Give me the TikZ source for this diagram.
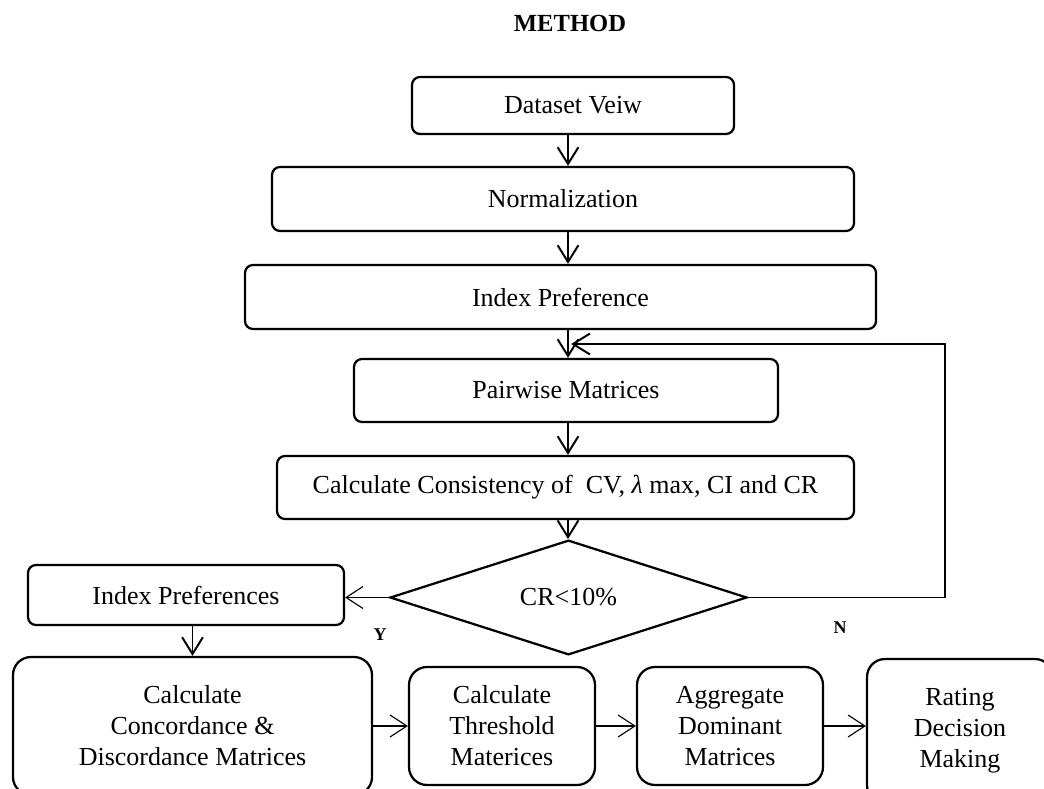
\documentclass[tikz,border=0pt]{standalone}
\usepackage{fontspec}
\setmainfont{Liberation Serif}
\usepackage{tikz}
\usetikzlibrary{shapes.geometric,arrows.meta}
\tikzstyle{arrow} = [line width=1.4pt,-{Straight Barb[length=0.42cm,width=0.52cm]}]
\tikzstyle{thinarrow} = [line width=0.8pt,-{Straight Barb[length=0.42cm,width=0.55cm]}]
\tikzset{
 b/.style
  = {rectangle, draw, rounded corners=0.2cm, line width=1.6pt, inner sep=0pt,
     text centered, minimum height=1.6cm},
 bb/.style
  = {rectangle, draw, rounded corners=0.45cm, line width=1.6pt, inner sep=0pt,
     align=center, minimum width=4.65cm},
 d/.style
  = {diamond, draw, line width=1.6pt, inner sep=0pt,
     minimum width=8.925cm, minimum height=2.375cm},
 yn/.style
  = {font=\fontsize{12.8}{15}\selectfont\bfseries},
}

\begin{document}
\begin{tikzpicture}[font=\fontsize{18.5}{22}\selectfont]
\useasboundingbox (0,0) rectangle (26.1,-19.725);
\clip (0,0) rectangle (26.1,-19.725);

% Title
\node[font=\fontsize{17.5}{21}\selectfont\bfseries] (title) at (14.25,-0.575) {METHOD};

% Main column
\node[b, minimum width=8.05cm, minimum height=1.425cm] (view) at (14.325,-2.6375) {Dataset Veiw};
\node[b, minimum width=14.55cm] (norm) at (14.075,-4.975) {Normalization};
\node[b, minimum width=15.775cm] (pref) at (14.0125,-7.425) {Index Preference};
\node[b, minimum width=10.6cm, minimum height=1.575cm] (pair) at (14.15,-9.7625) {Pairwise Matrices};
\node[b, minimum width=14.425cm, minimum height=1.575cm] (cons) at (14.1375,-12.1875)
  {Calculate Consistency of\ \ CV, {\itshape λ} max, CI and CR};

% Decision
\node[d] (cr) at (14.2125,-14.9375) {CR<10\%};
\node[yn] (yes) at (9.5,-15.875) {Y};
\node[yn] (no) at (21.0,-15.7) {N};

% Left branch
\node[b, minimum width=7.9cm, minimum height=1.5cm] (prefs) at (4.65,-14.875) {Index Preferences};

% Bottom row
\node[bb, minimum width=8.975cm, minimum height=3.45cm] (conc) at (4.8125,-18.15)
  {Calculate\\Concordance \&\\Discordance Matrices};
\node[bb, minimum height=2.95cm] (thr) at (12.55,-18.15) {Calculate\\Threshold\\Materices};
\node[bb, minimum height=2.95cm] (agg) at (18.25,-18.15) {Aggregate\\Dominant\\Matrices};
\node[bb, minimum height=3.6cm] (rate) at (24.0,-18.275) {Rating\\Decision\\Making};

% Arrows down the column
\coordinate (axis) at (14.2,0);
\draw[arrow] (view.south -| axis) -- (norm.north -| axis);
\draw[arrow] (norm.south -| axis) -- (pref.north -| axis);
\draw[arrow] (pref.south -| axis) -- (pair.north -| axis);
\draw[arrow] (pair.south -| axis) -- (cons.north -| axis);
\draw[arrow] (cons.south -| axis) -- (cr.north -| axis);

% Loop back (N)
\coordinate (back) at (23.625,-8.6);
\coordinate (backend) at (14.28,-8.6);
\draw[arrow] (cr.east) -| (back) -- (backend);

% Yes branch
\draw[thinarrow] (cr.west) -- (cr.west -| prefs.east);
\draw[arrow] (prefs.south -| conc.north) -- (conc.north);

% Bottom row arrows
\draw[thinarrow] (conc.east) -- (thr.west);
\draw[thinarrow] (thr.east) -- (agg.west);
\draw[thinarrow] (agg.east) -- (thr.east -| rate.west);

\end{tikzpicture}
\end{document}
